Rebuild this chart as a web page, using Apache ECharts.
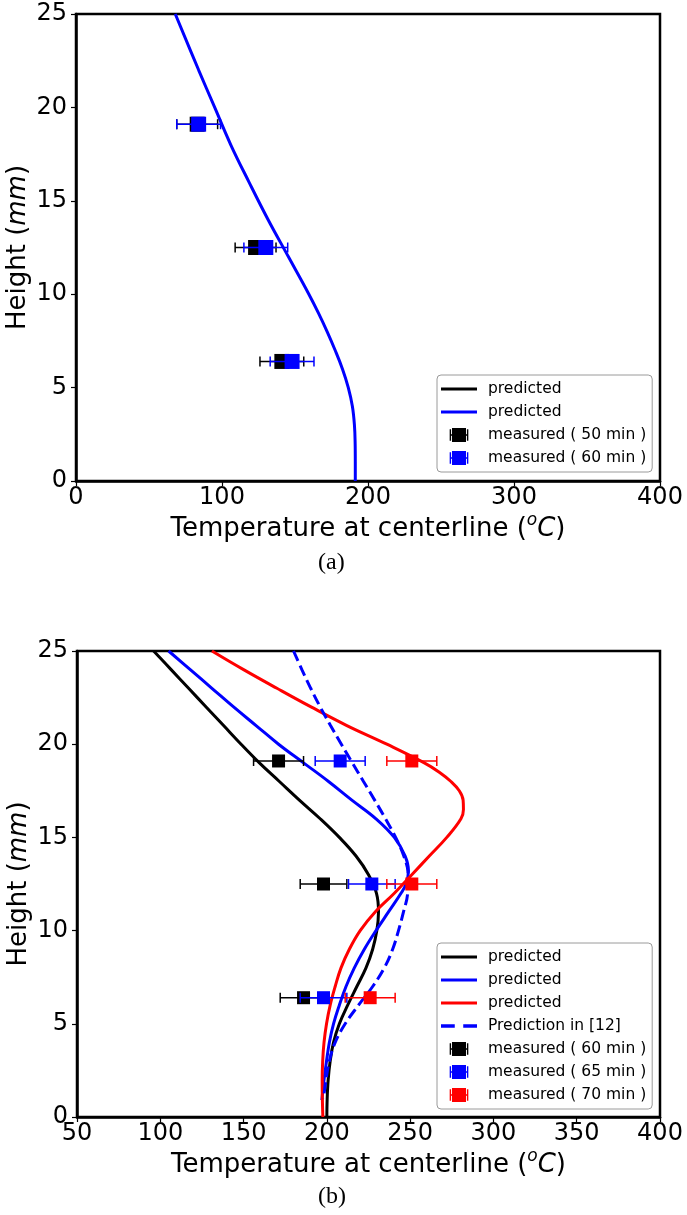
<!DOCTYPE html>
<html>
<head>
<meta charset="utf-8">
<script src="https://cdn.jsdelivr.net/npm/echarts@6/dist/echarts.min.js"></script>
<style>
html,body{margin:0;padding:0;background:#fff;}
#c{width:687px;height:1215px;}
</style>
</head>
<body>
<div id="c"></div>
<script>
// ---------- data ----------
const measHeights = [19.1, 12.5, 6.4];

// panel (a)
const aPredH   = [25, 22, 20, 18, 16, 14, 12, 10, 9, 8, 7, 6, 5, 4, 3, 2, 1, 0];
const aPredT60 = [68, 84, 95, 106, 118.5, 131.5, 145.5, 159.5, 166, 172, 177.5, 182.5, 186.5, 189.3, 190.7, 191.2, 191.3, 191.3];
const aMeas50T = [83, 123, 141];
const aMeas50Err = [14, 14, 15];
const aMeas60T = [84, 130, 148];
const aMeas60Err = [15, 15, 15];

// panel (b)
const bBlackH = [25, 24, 23, 22, 21, 20, 19, 18, 17, 16, 15, 14, 13, 12, 11, 10, 9, 8, 7, 6, 5, 4, 3, 2, 1, 0];
const bBlackT = [96, 106.5, 117, 127.5, 138, 148.5, 159.5, 171.5, 183.5, 196, 207.5, 217.5, 225, 229.8, 231, 230, 227.5, 223.5, 218, 212.5, 207.5, 204, 202, 200.8, 200.2, 200];
const bBlueH = [25, 24, 23, 22, 21, 20, 19, 18, 17, 16, 15, 14, 13.2, 12.5, 12, 11, 10, 9, 8, 7, 6, 5, 4, 3, 2, 0.9];
const bBlueT = [105, 118, 131, 144, 157.5, 171, 186, 201, 215, 229.5, 240.5, 247, 249, 247.5, 244.5, 237, 229.5, 222.5, 216.5, 211.5, 207.5, 204, 201.5, 199.8, 198.3, 197];
const bRedH = [25, 24, 23, 22, 21, 20, 19, 18.5, 18, 17.5, 17, 16.5, 16, 15, 14, 13, 12, 11, 10, 9, 8, 7, 6, 5, 4, 3, 2, 1, 0];
const bRedT = [131, 150, 170, 190.5, 212, 236, 258.5, 267.5, 274.5, 279.5, 281.8, 282, 280.5, 272, 261.5, 251, 240.5, 229, 220, 213.5, 208.5, 205, 202, 199.8, 198.3, 197.5, 197.2, 197.3, 197.6];
const bDashH = [25, 24, 23, 22, 21, 20, 19, 18, 17, 16, 15, 14, 13, 12, 11, 10, 9, 8, 7, 6, 5, 4, 3, 2, 1];
const bDashT = [180, 185, 190.3, 196, 202.2, 208.7, 215.3, 222, 228.7, 235.2, 241.3, 246.2, 248.8, 248.5, 246, 243, 239.5, 234.5, 227.5, 219, 211, 205, 201.5, 199.5, 198];
const bMeas60T = [171, 198, 186];
const bMeas60Err = [15, 14, 14];
const bMeas65T = [208, 227, 198];
const bMeas65Err = [15, 14, 14];
const bMeas70T = [251, 251, 226];
const bMeas70Err = [15, 15, 15];

const aXTicks = [0, 100, 200, 300, 400];
const bXTicks = [50, 100, 150, 200, 250, 300, 350, 400];
const yTicks = [0, 5, 10, 15, 20, 25];

// ---------- helpers ----------
const FONT = 'DejaVu Sans';
const pairs = (T, H) => T.map((t, i) => [t, H[i]]);
const errData = (T, E) => T.map((t, i) => [measHeights[i], t - E[i], t + E[i]]);
const ptData = (T) => T.map((t, i) => [t, measHeights[i]]);

function errRender(params, api) {
  const y = api.value(0), lo = api.value(1), hi = api.value(2);
  const p1 = api.coord([lo, y]), p2 = api.coord([hi, y]);
  const c = api.visual('color');
  const h = 5;
  const st = { stroke: c, lineWidth: 1.5 };
  return {
    type: 'group',
    children: [
      { type: 'line', shape: { x1: p1[0], y1: p1[1], x2: p2[0], y2: p2[1] }, style: st },
      { type: 'line', shape: { x1: p1[0], y1: p1[1] - h, x2: p1[0], y2: p1[1] + h }, style: st },
      { type: 'line', shape: { x1: p2[0], y1: p2[1] - h, x2: p2[0], y2: p2[1] + h }, style: st }
    ]
  };
}

function lineSeries(name, data, color, idx, dashed, z) {
  return {
    name: name, type: 'line', xAxisIndex: idx, yAxisIndex: idx,
    data: data, smooth: 0.4, showSymbol: false, symbol: 'none',
    lineStyle: { color: color, width: 3, type: dashed ? [11, 5] : 'solid' },
    itemStyle: { color: color }, z: z || 2, animation: false
  };
}
function errSeries(data, color, idx, z) {
  return {
    type: 'custom', xAxisIndex: idx, yAxisIndex: idx, renderItem: errRender,
    encode: { x: [1, 2], y: 0 }, data: data, itemStyle: { color: color }, z: z, animation: false, silent: true
  };
}
function markSeries(name, data, color, idx, size, z) {
  return {
    name: name, type: 'scatter', xAxisIndex: idx, yAxisIndex: idx, data: data,
    symbol: 'rect', symbolSize: size, itemStyle: { color: color, opacity: 1 }, z: z, animation: false
  };
}

function xAxis(idx, min, max, interval, ticks) {
  return {
    type: 'value', gridIndex: idx, min: min, max: max, interval: interval,
    name: '{t|Temperature at centerline (}{s|o}{i|C}{t|)}',
    nameLocation: 'middle', nameGap: 31, nameMoveOverlap: false,
    nameTextStyle: {
      rich: {
        t: { fontSize: 26, fontFamily: FONT, color: '#000', lineHeight: 30, verticalAlign: 'bottom' },
        i: { fontSize: 26, fontFamily: FONT, fontStyle: 'italic', color: '#000', lineHeight: 30, verticalAlign: 'bottom' },
        s: { fontSize: 17, fontFamily: FONT, fontStyle: 'italic', color: '#000', lineHeight: 17, verticalAlign: 'top' }
      }
    },
    axisLine: { show: true, onZero: false, lineStyle: { color: '#000', width: 2.5 } },
    axisTick: { show: true, inside: false, length: 5, lineStyle: { color: '#000', width: 1.2 } },
    splitLine: { show: false },
    axisLabel: {
      fontSize: 24, fontFamily: FONT, color: '#000', margin: 5, hideOverlap: false,
      formatter: (v) => ticks.indexOf(v) >= 0 ? String(v) : ''
    }
  };
}
function yAxis(idx) {
  return {
    type: 'value', gridIndex: idx, min: 0, max: 25, interval: 5,
    name: '{t|Height (}{i|mm}{t|)}',
    nameLocation: 'middle', nameGap: 45, nameRotate: 90, nameMoveOverlap: false,
    nameTextStyle: {
      rich: {
        t: { fontSize: 26, fontFamily: FONT, color: '#000' },
        i: { fontSize: 26, fontFamily: FONT, fontStyle: 'italic', color: '#000' }
      }
    },
    axisLine: { show: true, onZero: false, lineStyle: { color: '#000', width: 2.5 } },
    axisTick: { show: true, inside: false, length: 5, lineStyle: { color: '#000', width: 1.2 } },
    splitLine: { show: false },
    axisLabel: {
      fontSize: 24, fontFamily: FONT, color: '#000', margin: 9, hideOverlap: false,
      formatter: (v) => yTicks.indexOf(v) >= 0 ? String(v) : ''
    }
  };
}

const LINE_ICON = 'path://M0,0H36V3.2H0Z';
const DASH_ICON = 'path://M0,0H13V3.2H0Z M21,0H34V3.2H21Z';
const MARK_ICON = 'path://M0,2H1.2V12H0Z M14.8,2H16V12H14.8Z M0,6.4H16V7.6H0Z M2,1H14V13H2Z';

function legend(top, items) {
  return {
    orient: 'vertical', left: 437, top: top,
    itemWidth: 36, itemHeight: 14, itemGap: 7,
    padding: [6, 6, 6, 4],
    borderColor: '#9a9a9a', borderWidth: 1, borderRadius: 4,
    backgroundColor: 'rgba(255,255,255,0.8)',
    selectedMode: false,
    textStyle: { fontSize: 15.5, fontFamily: FONT, color: '#000', lineHeight: 14, padding: [0, 0, 0, 6] },
    symbolKeepAspect: true,
    data: items
  };
}

// names (zero-width marks keep legend entries distinct)
const N_A_PB = 'predicted';
const N_A_P60 = 'predicted\u200b';
const N_A_M50 = 'measured ( 50 min )';
const N_A_M60 = 'measured ( 60 min )';
const N_B_PB = 'predicted\u200b\u200b';
const N_B_P65 = 'predicted\u200b\u200b\u200b';
const N_B_P70 = 'predicted\u200b\u200b\u200b\u200b';
const N_B_D = 'Prediction in [12]';
const N_B_M60 = 'measured ( 60 min )\u200b';
const N_B_M65 = 'measured ( 65 min )';
const N_B_M70 = 'measured ( 70 min )';

const gridBase = { show: true, borderColor: '#000', borderWidth: 2.5, backgroundColor: 'transparent', containLabel: false, outerBoundsMode: 'none' };

const option = {
  animation: false,
  backgroundColor: '#fff',
  grid: [
    Object.assign({ left: 76, top: 14, width: 584, height: 467 }, gridBase),
    Object.assign({ left: 77, top: 651, width: 583, height: 466 }, gridBase)
  ],
  xAxis: [xAxis(0, 0, 400, 100, aXTicks), xAxis(1, 50, 400, 50, bXTicks)],
  yAxis: [yAxis(0), yAxis(1)],
  legend: [
    legend(375, [
      { name: N_A_PB, icon: LINE_ICON, itemStyle: { color: '#000' } },
      { name: N_A_P60, icon: LINE_ICON, itemStyle: { color: '#0000ff' } },
      { name: N_A_M50, icon: MARK_ICON, itemStyle: { color: '#000' } },
      { name: N_A_M60, icon: MARK_ICON, itemStyle: { color: '#0000ff' } }
    ]),
    legend(943, [
      { name: N_B_PB, icon: LINE_ICON, itemStyle: { color: '#000' } },
      { name: N_B_P65, icon: LINE_ICON, itemStyle: { color: '#0000ff' } },
      { name: N_B_P70, icon: LINE_ICON, itemStyle: { color: '#ff0000' } },
      { name: N_B_D, icon: DASH_ICON, itemStyle: { color: '#0000ff' } },
      { name: N_B_M60, icon: MARK_ICON, itemStyle: { color: '#000' } },
      { name: N_B_M65, icon: MARK_ICON, itemStyle: { color: '#0000ff' } },
      { name: N_B_M70, icon: MARK_ICON, itemStyle: { color: '#ff0000' } }
    ])
  ],
  graphic: [
    { type: 'text', left: 318, top: 551, style: { text: '(a)', font: '24px "Liberation Serif"', fill: '#000' } },
    { type: 'text', left: 318, top: 1185, style: { text: '(b)', font: '24px "Liberation Serif"', fill: '#000' } }
  ],
  series: [
    // (a)
    lineSeries(N_A_PB, [], '#000', 0, false, 2),
    lineSeries(N_A_P60, pairs(aPredT60, aPredH), '#0000ff', 0, false, 3),
    errSeries(errData(aMeas50T, aMeas50Err), '#000', 0, 4),
    markSeries(N_A_M50, ptData(aMeas50T), '#000', 0, 15, 5),
    errSeries(errData(aMeas60T, aMeas60Err), '#0000ff', 0, 6),
    markSeries(N_A_M60, ptData(aMeas60T), '#0000ff', 0, 15, 7),
    // (b)
    lineSeries(N_B_PB, pairs(bBlackT, bBlackH), '#000', 1, false, 2),
    lineSeries(N_B_P65, pairs(bBlueT, bBlueH), '#0000ff', 1, false, 2),
    lineSeries(N_B_P70, pairs(bRedT, bRedH), '#ff0000', 1, false, 2),
    lineSeries(N_B_D, pairs(bDashT, bDashH), '#0000ff', 1, true, 2),
    errSeries(errData(bMeas60T, bMeas60Err), '#000', 1, 4),
    markSeries(N_B_M60, ptData(bMeas60T), '#000', 1, 13, 5),
    errSeries(errData(bMeas65T, bMeas65Err), '#0000ff', 1, 6),
    markSeries(N_B_M65, ptData(bMeas65T), '#0000ff', 1, 13, 7),
    errSeries(errData(bMeas70T, bMeas70Err), '#ff0000', 1, 8),
    markSeries(N_B_M70, ptData(bMeas70T), '#ff0000', 1, 13, 9)
  ]
};

const chart = echarts.init(document.getElementById('c'), null, { renderer: 'canvas' });
chart.setOption(option);
</script>
</body>
</html>
